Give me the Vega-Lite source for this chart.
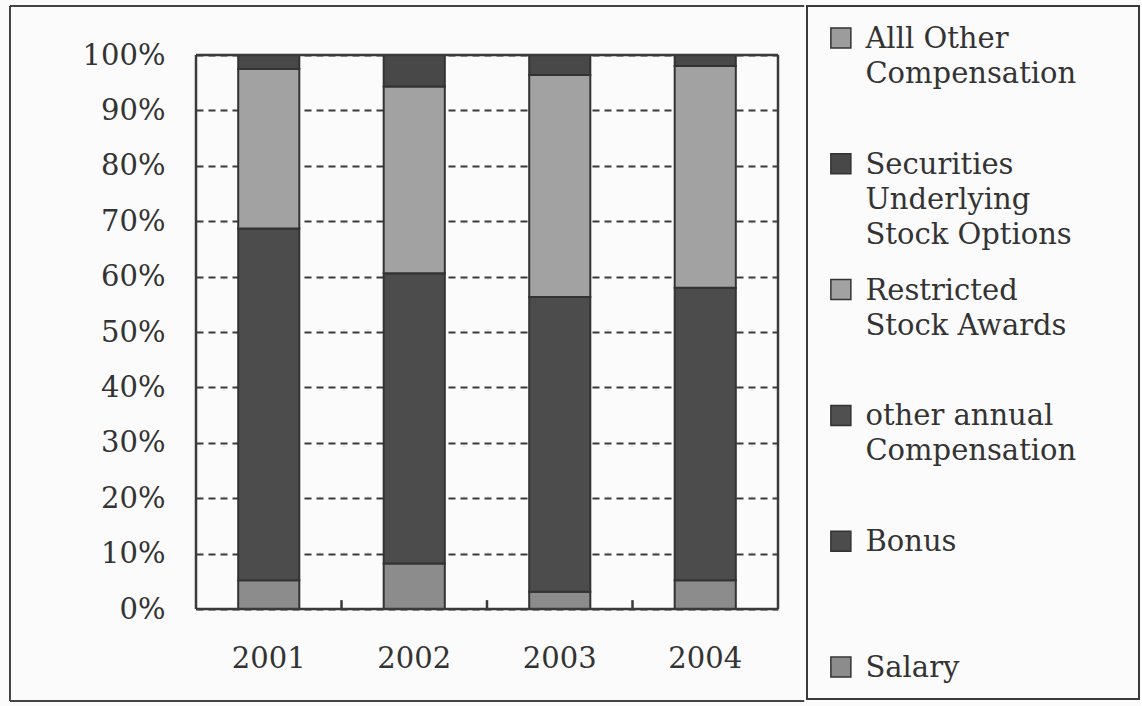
{
  "$schema": "https://vega.github.io/schema/vega-lite/v6.json",
  "padding": {"left": 8, "top": 5, "right": 1, "bottom": 4},
  "background": "#fbfbfb",
  "spacing": 0,
  "config": {
    "font": "DejaVu Serif",
    "view": {"stroke": "#3a3a3a", "strokeWidth": 2}
  },
  "hconcat": [
    {
      "width": 582,
      "height": 603,
      "view": {"stroke": null},
      "resolve": {"scale": {"x": "independent"}, "axis": {"x": "independent"}},
      "layer": [
        {
          "data": {
            "values": [
              {"year": "2001", "category": "Salary", "rank": 1, "value": 5.2},
              {"year": "2001", "category": "Bonus", "rank": 2, "value": 63.5},
              {"year": "2001", "category": "Other Annual", "rank": 3, "value": 0},
              {"year": "2001", "category": "Restricted", "rank": 4, "value": 28.8},
              {"year": "2001", "category": "Securities", "rank": 5, "value": 2.5},
              {"year": "2001", "category": "All Other", "rank": 6, "value": 0},
              {"year": "2002", "category": "Salary", "rank": 1, "value": 8.2},
              {"year": "2002", "category": "Bonus", "rank": 2, "value": 52.4},
              {"year": "2002", "category": "Other Annual", "rank": 3, "value": 0},
              {"year": "2002", "category": "Restricted", "rank": 4, "value": 33.7},
              {"year": "2002", "category": "Securities", "rank": 5, "value": 5.7},
              {"year": "2002", "category": "All Other", "rank": 6, "value": 0},
              {"year": "2003", "category": "Salary", "rank": 1, "value": 3.1},
              {"year": "2003", "category": "Bonus", "rank": 2, "value": 53.2},
              {"year": "2003", "category": "Other Annual", "rank": 3, "value": 0},
              {"year": "2003", "category": "Restricted", "rank": 4, "value": 40.1},
              {"year": "2003", "category": "Securities", "rank": 5, "value": 3.6},
              {"year": "2003", "category": "All Other", "rank": 6, "value": 0},
              {"year": "2004", "category": "Salary", "rank": 1, "value": 5.2},
              {"year": "2004", "category": "Bonus", "rank": 2, "value": 52.8},
              {"year": "2004", "category": "Other Annual", "rank": 3, "value": 0},
              {"year": "2004", "category": "Restricted", "rank": 4, "value": 40.0},
              {"year": "2004", "category": "Securities", "rank": 5, "value": 2.0},
              {"year": "2004", "category": "All Other", "rank": 6, "value": 0}
            ]
          },
          "mark": {"type": "bar", "stroke": "#333333", "strokeWidth": 2},
          "encoding": {
            "x": {
              "field": "year",
              "type": "nominal",
              "scale": {"paddingInner": 0.58, "paddingOuter": 0.29},
              "axis": {
                "title": null,
                "labelAngle": 0,
                "domain": false,
                "grid": false,
                "ticks": false,
                "labelFontSize": 29,
                "labelColor": "#333333",
                "labelPadding": 35
              }
            },
            "y": {
              "field": "value",
              "type": "quantitative",
              "stack": "normalize",
              "scale": {"domain": [0, 1.0885], "nice": false},
              "axis": {
                "title": null,
                "values": [0, 0.1, 0.2, 0.3, 0.4, 0.5, 0.6, 0.7, 0.8, 0.9, 1],
                "format": ".0%",
                "domain": false,
                "ticks": false,
                "labelFontSize": 29,
                "labelColor": "#333333",
                "labelPadding": 31,
                "grid": true,
                "gridDash": [7, 5],
                "gridColor": "#3a3a3a",
                "gridWidth": 2,
                "gridOpacity": 1
              }
            },
            "color": {
              "field": "category",
              "type": "nominal",
              "scale": {
                "domain": ["Salary", "Bonus", "Other Annual", "Restricted", "Securities", "All Other"],
                "range": ["#8c8c8c", "#4c4c4c", "#505050", "#a2a2a2", "#484848", "#9c9c9c"]
              },
              "legend": null
            },
            "order": {"field": "rank", "type": "quantitative"}
          }
        },
        {
          "data": {"values": [{}]},
          "mark": {"type": "rule", "color": "#3a3a3a", "strokeWidth": 2.5},
          "encoding": {"y": {"datum": 1, "type": "quantitative"}}
        },
        {
          "data": {"values": [{}]},
          "mark": {"type": "rule", "color": "#3a3a3a", "strokeWidth": 2.5},
          "encoding": {"y": {"datum": 0, "type": "quantitative"}}
        },
        {
          "data": {"values": [{}]},
          "mark": {"type": "rule", "color": "#3a3a3a", "strokeWidth": 2.5},
          "encoding": {
            "x": {"datum": 0, "type": "quantitative", "scale": {"domain": [0, 1]}, "axis": null},
            "y": {"datum": 0, "type": "quantitative"},
            "y2": {"datum": 1}
          }
        },
        {
          "data": {"values": [{}]},
          "mark": {"type": "rule", "color": "#3a3a3a", "strokeWidth": 2.5},
          "encoding": {
            "x": {"datum": 1, "type": "quantitative", "scale": {"domain": [0, 1]}, "axis": null},
            "y": {"datum": 0, "type": "quantitative"},
            "y2": {"datum": 1}
          }
        },
        {
          "data": {"values": [{}]},
          "mark": {"type": "rule", "color": "#3a3a3a", "strokeWidth": 2.5},
          "encoding": {
            "x": {"datum": 0.25, "type": "quantitative", "scale": {"domain": [0, 1]}, "axis": null},
            "y": {"datum": 0, "type": "quantitative"},
            "y2": {"datum": 0.016}
          }
        },
        {
          "data": {"values": [{}]},
          "mark": {"type": "rule", "color": "#3a3a3a", "strokeWidth": 2.5},
          "encoding": {
            "x": {"datum": 0.5, "type": "quantitative", "scale": {"domain": [0, 1]}, "axis": null},
            "y": {"datum": 0, "type": "quantitative"},
            "y2": {"datum": 0.016}
          }
        },
        {
          "data": {"values": [{}]},
          "mark": {"type": "rule", "color": "#3a3a3a", "strokeWidth": 2.5},
          "encoding": {
            "x": {"datum": 0.75, "type": "quantitative", "scale": {"domain": [0, 1]}, "axis": null},
            "y": {"datum": 0, "type": "quantitative"},
            "y2": {"datum": 0.016}
          }
        },
        {
          "data": {"values": [{}]},
          "mark": {"type": "rule", "color": "#444444", "strokeWidth": 2},
          "encoding": {
            "x": {"datum": -0.3196, "type": "quantitative", "scale": {"domain": [0, 1]}, "axis": null},
            "x2": {"datum": 1.045},
            "y": {"datum": 1.0885, "type": "quantitative"}
          }
        },
        {
          "data": {"values": [{}]},
          "mark": {"type": "rule", "color": "#444444", "strokeWidth": 2},
          "encoding": {
            "x": {"datum": -0.3196, "type": "quantitative", "scale": {"domain": [0, 1]}, "axis": null},
            "x2": {"datum": 1.045},
            "y": {"datum": -0.166, "type": "quantitative"}
          }
        },
        {
          "data": {"values": [{}]},
          "mark": {"type": "rule", "color": "#444444", "strokeWidth": 2},
          "encoding": {
            "x": {"datum": -0.3196, "type": "quantitative", "scale": {"domain": [0, 1]}, "axis": null},
            "y": {"datum": -0.166, "type": "quantitative"},
            "y2": {"datum": 1.0885}
          }
        }
      ]
    },
    {
      "width": 332,
      "height": 693,
      "data": {
        "values": [
          {"category": "All Other", "label": "Alll Other\nCompensation"},
          {"category": "Securities", "label": "Securities\nUnderlying\nStock Options"},
          {"category": "Restricted", "label": "Restricted\nStock Awards"},
          {"category": "Other Annual", "label": "other annual\nCompensation"},
          {"category": "Bonus", "label": "Bonus"},
          {"category": "Salary", "label": "Salary"}
        ]
      },
      "encoding": {
        "y": {
          "field": "category",
          "type": "nominal",
          "scale": {
            "type": "point",
            "domain": ["All Other", "Securities", "Restricted", "Other Annual", "Bonus", "Salary"],
            "padding": 0.2535
          },
          "axis": null
        }
      },
      "layer": [
        {
          "mark": {"type": "point", "shape": "square", "filled": true, "size": 400, "stroke": "#333333", "strokeWidth": 1.5, "opacity": 1},
          "encoding": {
            "x": {"datum": 0.102, "type": "quantitative", "scale": {"domain": [0, 1]}, "axis": null},
            "color": {
              "field": "category",
              "type": "nominal",
              "scale": {
                "domain": ["Salary", "Bonus", "Other Annual", "Restricted", "Securities", "All Other"],
                "range": ["#8c8c8c", "#4c4c4c", "#505050", "#a2a2a2", "#484848", "#9c9c9c"]
              },
              "legend": null
            }
          }
        },
        {
          "mark": {"type": "text", "align": "left", "baseline": "alphabetic", "dy": 10, "lineBreak": "\n", "lineHeight": 35, "fontSize": 29, "color": "#333333"},
          "encoding": {
            "x": {"datum": 0.176, "type": "quantitative", "scale": {"domain": [0, 1]}, "axis": null},
            "text": {"field": "label", "type": "nominal"}
          }
        }
      ]
    }
  ]
}
